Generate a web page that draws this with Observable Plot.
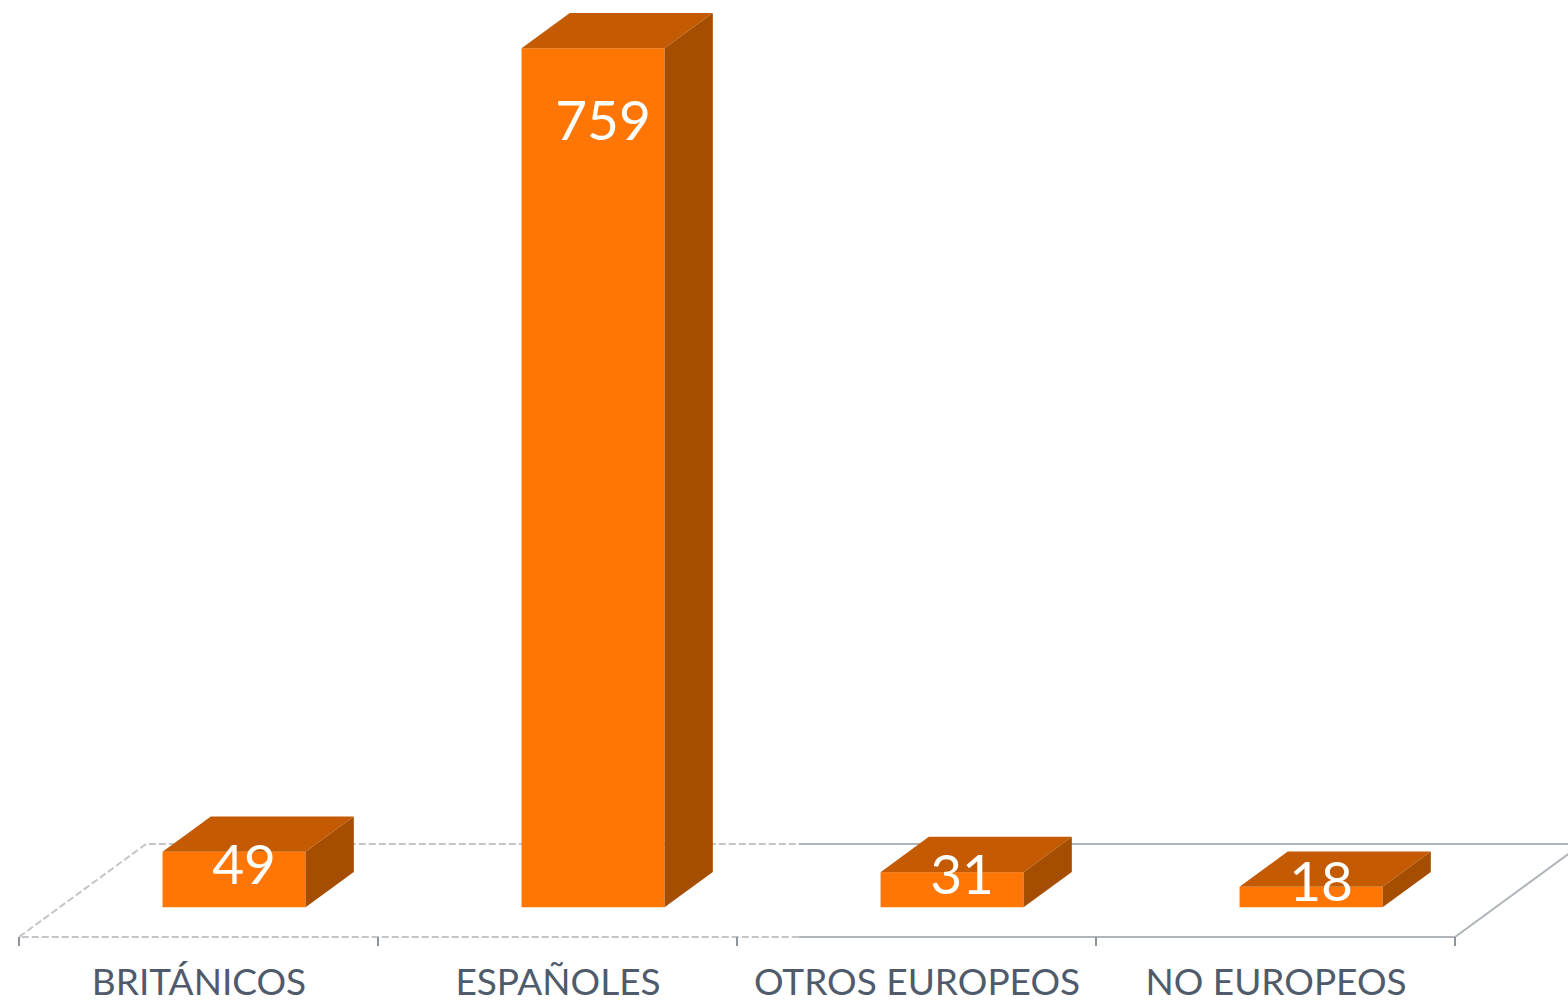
<!DOCTYPE html>
<html><head><meta charset="utf-8">
<script src="https://cdn.jsdelivr.net/npm/d3@7"></script>
<script src="https://cdn.jsdelivr.net/npm/@observablehq/plot@0.6"></script>
<style>html,body{margin:0;padding:0;background:#fff;overflow:hidden}</style>
</head><body><div id="chart"></div>
<script>
const categories = ["BRITÁNICOS", "ESPAÑOLES", "OTROS EUROPEOS", "NO EUROPEOS"];
const values = [49, 759, 31, 18];
const data = categories.map((c, i) => ({category: c, value: values[i]}));

const FRONT = "#ff7604", TOP = "#c45b02", SIDE = "#a54e01";
const DEPTH = [127, -93];   // floor depth vector (px)
const OFF_X = 0.28, OFF_Y = 0.32; // bar front offset inside the floor depth
const BD = 0.38;            // bar depth as fraction of floor depth
const INSET = 108;
const W = 1568, H = 1005;

function floorMark(index, scales) {
  const x = scales.x, y = scales.y;
  const bw = x(categories[1]) - x(categories[0]);
  const x0 = x(categories[0]), x1 = x(categories[categories.length - 1]) + bw;
  const y0 = y(0);
  const split = x0 + 0.543 * (x1 - x0);
  const g = d3.create("svg:g").attr("fill", "none").attr("stroke-width", 2);
  const seg = (pts, stroke, dash) => {
    const p = g.append("polyline").attr("points", pts.map(d => d.join(",")).join(" ")).attr("stroke", stroke);
    if (dash) p.attr("stroke-dasharray", dash);
  };
  const dx = DEPTH[0], dy = DEPTH[1];
  seg([[split, y0], [x0, y0], [x0 + dx, y0 + dy], [split, y0 + dy]], "#c3c5c9", "7,3");
  seg([[split, y0], [x1, y0], [x1 + dx, y0 + dy]], "#b0b5bb");
  seg([[split, y0 + dy], [x1 + dx, y0 + dy]], "#b0b5bb");
  for (let i = 0; i <= categories.length; i++) {
    const xt = x0 + i * bw;
    g.append("line").attr("x1", xt).attr("x2", xt).attr("y1", y0).attr("y2", y0 + 9)
      .attr("stroke", "#8d949c").attr("stroke-width", 2);
  }
  return g.node();
}

function boxMark(index, scales) {
  const x = scales.x, y = scales.y;
  const bw = x(categories[1]) - x(categories[0]);
  const ox = OFF_X * DEPTH[0], oy = OFF_Y * DEPTH[1];
  const bx = BD * DEPTH[0], by = BD * DEPTH[1];
  const g = d3.create("svg:g");
  data.forEach(d => {
    const L = x(d.category) + INSET + ox, R = x(d.category) + bw - INSET + ox;
    const T = y(d.value) + oy, B = y(0) + oy;
    g.append("polygon").attr("fill", TOP)
      .attr("points", [[L, T], [R, T], [R + bx, T + by], [L + bx, T + by]].map(p => p.join(",")).join(" "));
    g.append("polygon").attr("fill", SIDE)
      .attr("points", [[R, T], [R + bx, T + by], [R + bx, B + by], [R, B]].map(p => p.join(",")).join(" "));
    const cy = Math.min((B + T + by) / 2 + 2, T + 72);
    const cx = (L + R) / 2 + 10;
    g.append("text").attr("x", cx).attr("y", cy).attr("dy", "0.36em")
      .attr("text-anchor", "middle").attr("fill", "white")
      .attr("font-family", "Lato, 'Open Sans', sans-serif").attr("font-size", 55)
      .text(d.value);
  });
  return g.node();
}

const chart = Plot.plot({
  width: W, height: H,
  marginLeft: 18, marginRight: 113, marginTop: 78, marginBottom: 68,
  x: {type: "band", domain: categories, padding: 0, axis: null},
  y: {domain: [0, d3.max(values)], axis: null},
  style: {background: "white", overflow: "hidden"},
  marks: [
    floorMark,
    Plot.barY(data, {x: "category", y: "value", fill: FRONT, insetLeft: INSET, insetRight: INSET,
      dx: OFF_X * DEPTH[0], dy: OFF_Y * DEPTH[1]}),
    boxMark,
    Plot.text(data, {x: "category", frameAnchor: "bottom", text: "category", dy: 46,
      fontSize: 37, fill: "#4f5b6b", fontFamily: "Lato, 'Open Sans', sans-serif", lineAnchor: "middle"})
  ]
});
document.getElementById("chart").append(chart);
</script></body></html>
